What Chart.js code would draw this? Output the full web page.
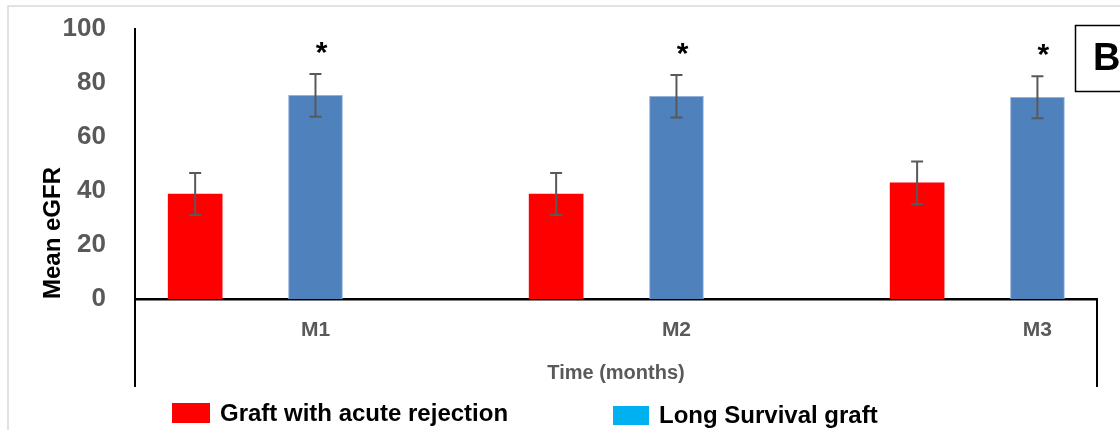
<!DOCTYPE html>
<html>
<head>
<meta charset="utf-8">
<title>Mean eGFR</title>
<style>
  html, body { margin: 0; padding: 0; background: #fff; }
  canvas { display: block; }
</style>
</head>
<body>
<canvas id="myChart" width="1120" height="430"></canvas>
<script src="https://cdn.jsdelivr.net/npm/chart.js@4"></script>
<script>
      const months = ["M1", "M2", "M3"];
      const rejectionMean = [38.9, 38.9, 43.0];
      const rejectionSD = [7.8, 7.8, 7.9];
      const survivalMean = [75.4, 75.1, 74.7];
      const survivalSD = [7.9, 7.9, 7.8];
      const significance = ["*", "*", "*"];
      const yTicks = [0, 20, 40, 60, 80, 100];
      const seriesNames = ["Graft with acute rejection", "Long Survival graft"];
      const legendColours = ["#FF0000", "#00B0F0"];

      const fontFamily = "'Liberation Sans', Arial, sans-serif";
      // bar position inside each month slot (the x axis is linear, one unit per month)
      const slotOffset = [1 / 6, 1 / 2];

      // setup
      const data = {
        datasets: [
          {
            label: seriesNames[0],
            data: rejectionMean.map((v, i) => ({ x: i + slotOffset[0], y: v })),
            sd: rejectionSD,
            backgroundColor: "#FF0000",
            borderWidth: 0,
          },
          {
            label: seriesNames[1],
            data: survivalMean.map((v, i) => ({ x: i + slotOffset[1], y: v })),
            sd: survivalSD,
            backgroundColor: "#4F81BD",
            borderColor: "#93B1D9",
            borderWidth: 1,
            borderSkipped: "bottom",
          },
        ],
      };

      // error bars plugin block
      const errorBars = {
        id: "errorBars",
        afterDatasetsDraw(chart, args, pluginOptions) {
          const { ctx, scales: { y } } = chart;
          ctx.save();
          ctx.strokeStyle = "#595959";
          ctx.lineWidth = 2;
          chart.data.datasets.forEach((dataset, i) => {
            chart.getDatasetMeta(i).data.forEach((bar, index) => {
              const mean = dataset.data[index].y;
              const sd = dataset.sd[index];
              const top = y.getPixelForValue(mean + sd);
              const bottom = y.getPixelForValue(mean - sd);
              ctx.beginPath();
              ctx.moveTo(bar.x, top);
              ctx.lineTo(bar.x, bottom);
              ctx.moveTo(bar.x - 6, top);
              ctx.lineTo(bar.x + 6, top);
              ctx.moveTo(bar.x - 6, bottom);
              ctx.lineTo(bar.x + 6, bottom);
              ctx.stroke();
            });
          });
          ctx.restore();
        },
      };

      // significance stars plugin block
      const stars = {
        id: "stars",
        afterDatasetsDraw(chart, args, pluginOptions) {
          const { ctx, data, scales: { y } } = chart;
          const dataset = data.datasets[1];
          ctx.save();
          ctx.font = "bold 30px " + fontFamily;
          ctx.fillStyle = "#000";
          ctx.textAlign = "center";
          ctx.textBaseline = "alphabetic";
          chart.getDatasetMeta(1).data.forEach((bar, index) => {
            const top = y.getPixelForValue(dataset.data[index].y + dataset.sd[index]);
            ctx.fillText(significance[index], bar.x + 6, top - 30 + 18);
          });
          ctx.restore();
        },
      };

      // frame, axis extensions and panel letter
      const decorations = {
        id: "decorations",
        beforeDraw(chart) {
          const { ctx, width, height } = chart;
          ctx.save();
          ctx.fillStyle = "#fff";
          ctx.fillRect(0, 0, width, height);
          ctx.strokeStyle = "#D9D9D9";
          ctx.lineWidth = 1.5;
          ctx.beginPath();
          ctx.moveTo(8, height);
          ctx.lineTo(8, 6);
          ctx.lineTo(width, 6);
          ctx.stroke();
          ctx.restore();
        },
        afterDraw(chart) {
          const { ctx, chartArea: { left, right, bottom } } = chart;
          ctx.save();
          ctx.strokeStyle = "#000";
          ctx.lineWidth = 2;
          ctx.beginPath();
          ctx.moveTo(left, bottom);
          ctx.lineTo(left, 387);
          ctx.moveTo(right, bottom);
          ctx.lineTo(right, 387);
          ctx.stroke();

          ctx.lineWidth = 1.5;
          ctx.strokeRect(1075.5, 25.5, 60, 66);
          ctx.font = "bold 38px " + fontFamily;
          ctx.fillStyle = "#000";
          ctx.textBaseline = "middle";
          ctx.textAlign = "left";
          ctx.fillText("B", 1093, 60);
          ctx.restore();
        },
      };

      // legend plugin block
      const bottomLegend = {
        id: "bottomLegend",
        afterDraw(chart, args, pluginOptions) {
          const { ctx, data } = chart;
          const items = pluginOptions.items;
          ctx.save();
          ctx.font = "bold 24px " + fontFamily;
          ctx.textBaseline = "middle";
          ctx.textAlign = "left";
          data.datasets.forEach((dataset, i) => {
            const it = items[i];
            ctx.fillStyle = legendColours[i];
            ctx.fillRect(it.x, it.y, it.w, it.h);
            ctx.fillStyle = "#000";
            ctx.fillText(dataset.label, it.x + it.w + 10, it.y + it.h / 2 + 1);
          });
          ctx.restore();
        },
      };

      // config
      const config = {
        type: "bar",
        data,
        options: {
          responsive: false,
          devicePixelRatio: 1,
          animation: false,
          layout: {
            padding: { top: 29, right: 23, left: 0, bottom: 0 },
          },
          datasets: {
            bar: { grouped: false, barThickness: 54 },
          },
          scales: {
            x: {
              type: "linear",
              offset: false,
              min: 0,
              max: 2.665,
              afterBuildTicks: (scale) => {
                scale.ticks = months.map((m, i) => ({ value: i + 0.5 }));
              },
              afterFit: (scale) => {
                scale.height = 131;
              },
              ticks: {
                callback: (value, index) => months[index],
                autoSkip: false,
                maxRotation: 0,
                color: "#595959",
                font: { family: fontFamily, size: 21, weight: "bold" },
                padding: 19,
              },
              grid: { display: false, drawTicks: false },
              border: { color: "#000", width: 2.5 },
              title: {
                display: true,
                text: "Time (months)",
                color: "#595959",
                font: { family: fontFamily, size: 20, weight: "bold" },
                padding: { top: 0, bottom: 45 },
              },
            },
            y: {
              min: 0,
              max: 100,
              afterBuildTicks: (scale) => {
                scale.ticks = yTicks.map((v) => ({ value: v }));
              },
              afterFit: (scale) => {
                scale.width = 135;
                // tick padding is horizontal only here
                scale.paddingTop = 16;
                scale.paddingBottom = 0;
              },
              ticks: {
                color: "#595959",
                font: { family: fontFamily, size: 26, weight: "bold" },
                padding: 29,
              },
              grid: { display: false, drawTicks: false },
              border: { color: "#000", width: 2 },
              title: {
                display: true,
                text: "Mean eGFR",
                align: "start",
                color: "#000",
                font: { family: fontFamily, size: 24, weight: "bold" },
                padding: { top: 39, bottom: 0 },
              },
            },
          },
          plugins: {
            legend: { display: false },
            tooltip: { enabled: false },
            bottomLegend: {
              items: [
                { x: 172, y: 403, w: 38, h: 20 },
                { x: 613, y: 406, w: 36, h: 19 },
              ],
            },
          },
        },
        plugins: [decorations, errorBars, stars, bottomLegend],
      };

      // render init block
      const myChart = new Chart(document.getElementById("myChart"), config);
</script>
</body>
</html>
